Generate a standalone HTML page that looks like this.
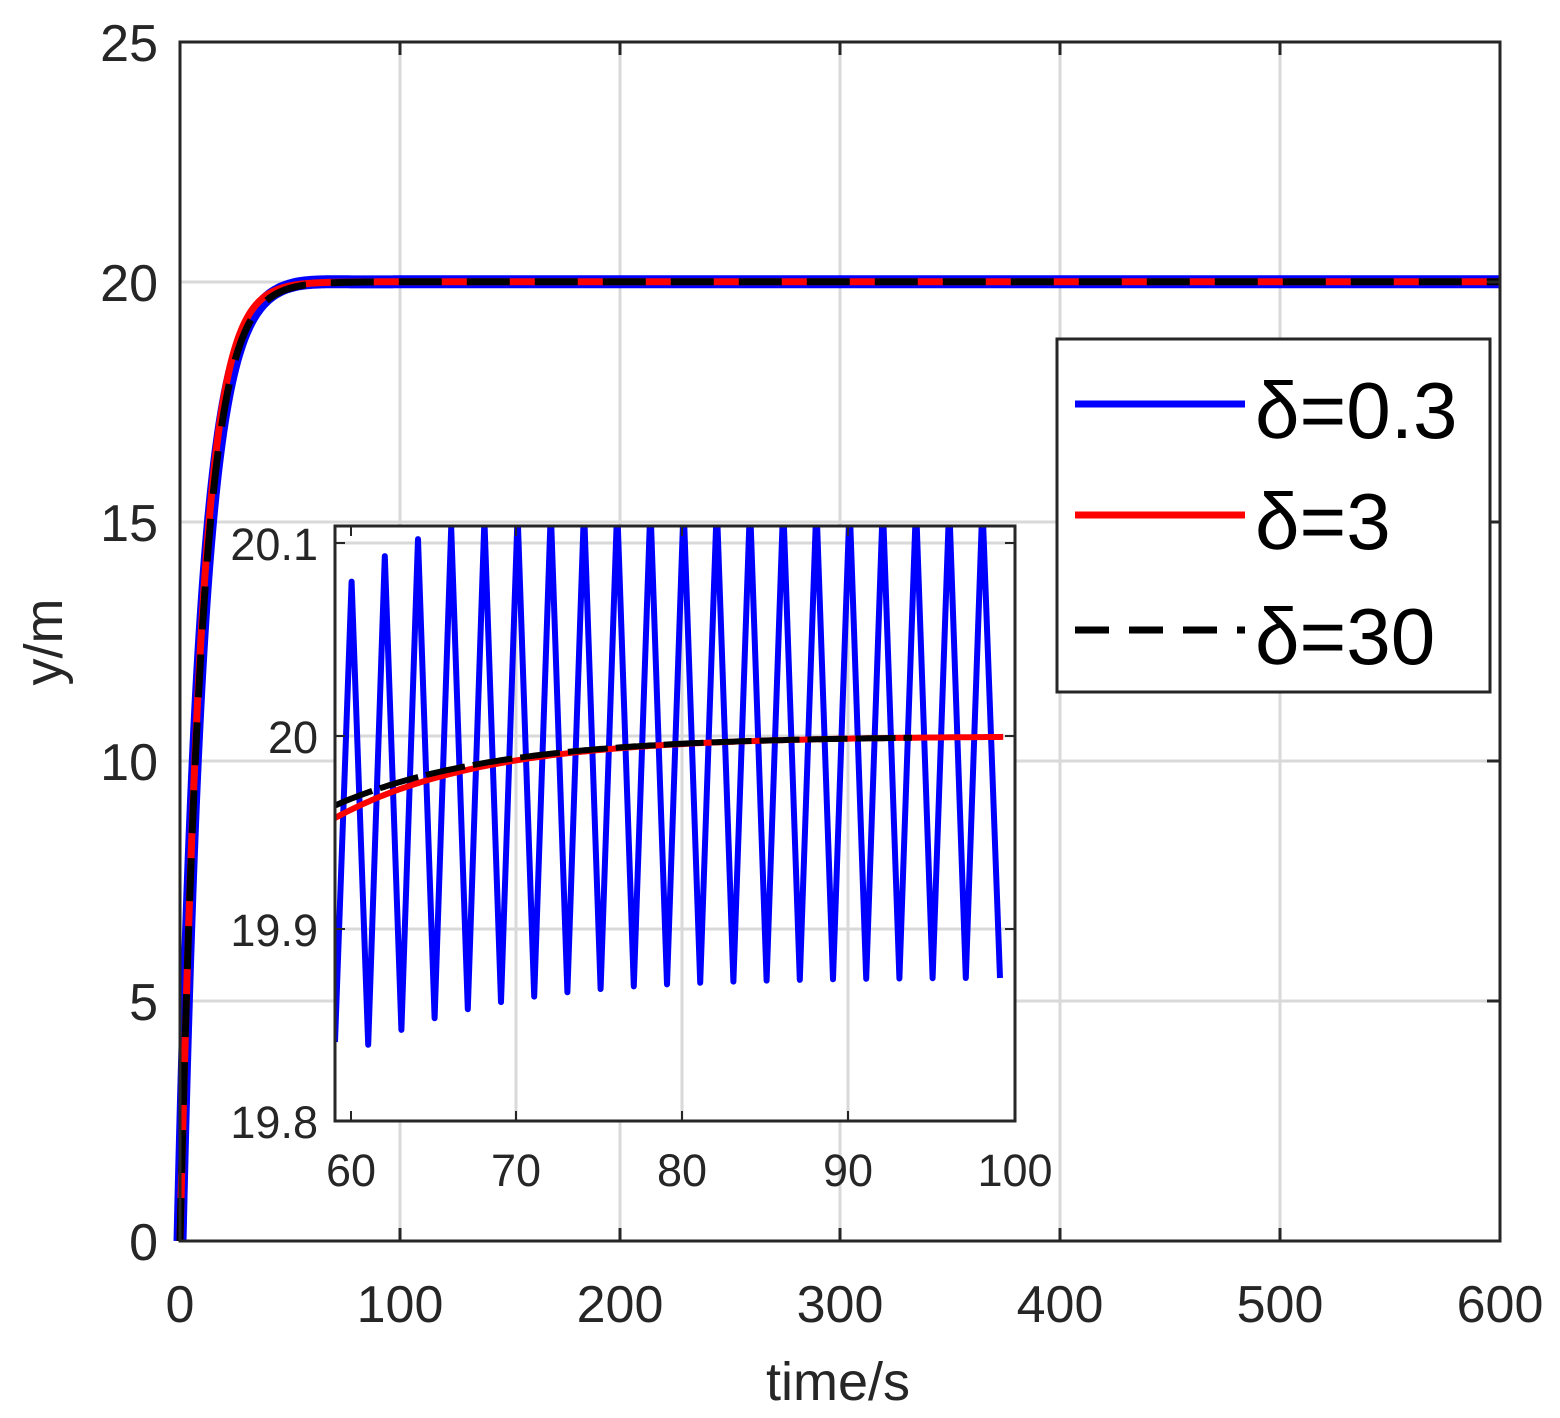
<!DOCTYPE html>
<html><head><meta charset="utf-8"><style>
html,body{margin:0;padding:0;background:#fff}
svg text{font-family:"Liberation Sans",Arial,sans-serif;fill:#262626}
</style></head><body>
<svg id="s" width="1560" height="1413" xmlns="http://www.w3.org/2000/svg">
<rect width="1560" height="1413" fill="#fff"/>
<g stroke="#d9d9d9" stroke-width="3">
<line x1="400" y1="42" x2="400" y2="1241"/><line x1="620" y1="42" x2="620" y2="1241"/>
<line x1="840" y1="42" x2="840" y2="1241"/><line x1="1060" y1="42" x2="1060" y2="1241"/>
<line x1="1280" y1="42" x2="1280" y2="1241"/>
<line x1="180" y1="1001" x2="1500" y2="1001"/><line x1="180" y1="761" x2="1500" y2="761"/>
<line x1="180" y1="522" x2="1500" y2="522"/><line x1="180" y1="282" x2="1500" y2="282"/>
</g>
<g id="main"></g>
<rect x="180" y="42" width="1320" height="1199" fill="none" stroke="#262626" stroke-width="3"/>
<g stroke="#262626" stroke-width="3">
<line x1="400" y1="1241" x2="400" y2="1228"/><line x1="620" y1="1241" x2="620" y2="1228"/><line x1="840" y1="1241" x2="840" y2="1228"/><line x1="1060" y1="1241" x2="1060" y2="1228"/><line x1="1280" y1="1241" x2="1280" y2="1228"/>
<line x1="400" y1="42" x2="400" y2="55"/><line x1="620" y1="42" x2="620" y2="55"/><line x1="840" y1="42" x2="840" y2="55"/><line x1="1060" y1="42" x2="1060" y2="55"/><line x1="1280" y1="42" x2="1280" y2="55"/>
<line x1="1500" y1="1001" x2="1487" y2="1001"/><line x1="1500" y1="761" x2="1487" y2="761"/><line x1="1500" y1="522" x2="1487" y2="522"/><line x1="1500" y1="282" x2="1487" y2="282"/>
</g>
<g font-size="52" text-anchor="middle">
<text x="180" y="1322">0</text><text x="400" y="1322">100</text><text x="620" y="1322">200</text><text x="840" y="1322">300</text><text x="1060" y="1322">400</text><text x="1280" y="1322">500</text><text x="1500" y="1322">600</text>
</g>
<g font-size="52" text-anchor="end">
<text x="158" y="1260">0</text><text x="158" y="1020">5</text><text x="158" y="780">10</text><text x="158" y="541">15</text><text x="158" y="301">20</text><text x="158" y="61">25</text>
</g>
<text x="838" y="1400" font-size="54" text-anchor="middle">time/s</text>
<text transform="translate(62,642) rotate(-90)" font-size="54" text-anchor="middle">y/m</text>
<!-- legend -->
<rect x="1057" y="339" width="433" height="353" fill="#fff" stroke="#262626" stroke-width="3"/>
<line x1="1075" y1="404" x2="1245" y2="404" stroke="#0000ff" stroke-width="7"/>
<line x1="1075" y1="515" x2="1245" y2="515" stroke="#ff0000" stroke-width="7"/>
<line x1="1075" y1="630" x2="1245" y2="630" stroke="#000" stroke-width="7" stroke-dasharray="34,20"/>
<g font-size="80"><text x="1255" y="438" style="fill:#000">δ=0.3</text><text x="1255" y="549" style="fill:#000">δ=3</text><text x="1255" y="664" style="fill:#000">δ=30</text></g>
<!-- inset -->
<rect x="335" y="526" width="680" height="595" fill="#fff"/>
<g stroke="#d9d9d9" stroke-width="3">
<line x1="516" y1="526" x2="516" y2="1121"/><line x1="682" y1="526" x2="682" y2="1121"/><line x1="848" y1="526" x2="848" y2="1121"/>
<line x1="335" y1="929" x2="1015" y2="929"/><line x1="335" y1="736" x2="1015" y2="736"/><line x1="335" y1="543" x2="1015" y2="543"/>
</g>
<defs><clipPath id="ic"><rect x="335" y="526" width="680" height="595"/></clipPath></defs>
<g id="inset" clip-path="url(#ic)"></g>
<rect x="335" y="526" width="680" height="595" fill="none" stroke="#262626" stroke-width="3"/>
<g stroke="#262626" stroke-width="2">
<line x1="351" y1="1121" x2="351" y2="1111"/><line x1="516" y1="1121" x2="516" y2="1111"/><line x1="682" y1="1121" x2="682" y2="1111"/><line x1="848" y1="1121" x2="848" y2="1111"/>
<line x1="351" y1="526" x2="351" y2="536"/><line x1="516" y1="526" x2="516" y2="536"/><line x1="682" y1="526" x2="682" y2="536"/><line x1="848" y1="526" x2="848" y2="536"/>
<line x1="335" y1="929" x2="345" y2="929"/><line x1="335" y1="736" x2="345" y2="736"/><line x1="335" y1="543" x2="345" y2="543"/>
<line x1="1015" y1="929" x2="1005" y2="929"/><line x1="1015" y1="736" x2="1005" y2="736"/><line x1="1015" y1="543" x2="1005" y2="543"/>
</g>
<g font-size="45" text-anchor="middle">
<text x="351" y="1186">60</text><text x="516" y="1186">70</text><text x="682" y="1186">80</text><text x="848" y="1186">90</text><text x="1015" y="1186">100</text>
</g>
<g font-size="45" text-anchor="end">
<text x="318" y="1138">19.8</text><text x="318" y="946">19.9</text><text x="318" y="753">20</text><text x="318" y="560">20.1</text>
</g>
</svg>
<script>
var NS="http://www.w3.org/2000/svg";
function pl(g,pts,col,w,dash){var p=document.createElementNS(NS,"polyline");p.setAttribute("points",pts.map(function(a){return a[0].toFixed(1)+","+a[1].toFixed(1)}).join(" "));p.setAttribute("fill","none");p.setAttribute("stroke",col);p.setAttribute("stroke-width",w);p.setAttribute("stroke-linejoin","round");if(dash)p.setAttribute("stroke-dasharray",dash);document.getElementById(g).appendChild(p);}
function X(t){return 180+t*2.2}function Y(v){return 1241-v*47.96}
var b=[],r=[],k=[];
for(var t=0;t<=600;t+=0.5){var f=20*(1-Math.exp(-t/10));
b.push([X(t),Y(f+0.05*Math.exp(-Math.pow((t-50)/20,2)))]);r.push([X(t),Y(20*(1-Math.exp(-Math.pow(t,1.03)/10.3)))]);k.push([X(t),Y(f)]);}
pl("main",b,"#0000ff",13);pl("main",r,"#ff0000",7);pl("main",k,"#000",7,"43,25");
function IX(t){return 335+(t-59)*16.6}function IY(v){return 736-(v-20)*1930}
var bi=[],ri=[],ki=[];
bi.push([335,1042]);
for(var i=0;i<20;i++){var tp=60+2*i,tt=61+2*i;
var pk=20.08+0.04*(1-Math.exp(-i/2.5));var tr=19.84+0.035*(1-Math.exp(-i/4));
bi.push([IX(tp),IY(pk)]);if(tt<=98.7)bi.push([IX(tt),IY(tr)]);}
bi=bi.filter(function(p){return p[0]<=1002});bi.push([1000,978]);
for(var t=59;t<=99.3;t+=0.25){ri.push([IX(t),IY(20-0.0425*Math.exp(-(t-59)/9))]);ki.push([IX(t),IY(20-0.036*Math.exp(-(t-59)/9.5))]);}
ki=ki.filter(function(p){return p[0]<=915});
pl("inset",bi,"#0000ff",6);pl("inset",ri,"#ff0000",6);pl("inset",ki,"#000",6,"40,8");
</script>
</body></html>
